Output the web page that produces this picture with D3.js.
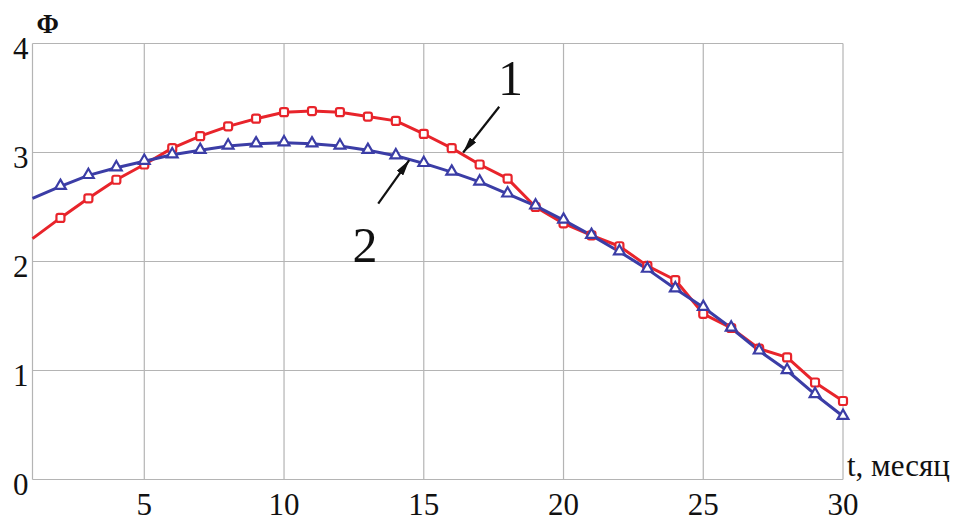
<!DOCTYPE html>
<html>
<head>
<meta charset="utf-8">
<script src="https://cdn.jsdelivr.net/npm/d3@7"></script>
<style>
    body { margin: 0; background: #ffffff; }
    svg { display: block; }
    .tick-label { font-family: "Liberation Serif", "Times New Roman", serif; fill: #111; }
</style>
</head>
<body>
<script>
// месяцы
var months = [1, 2, 3, 4, 5, 6, 7, 8, 9, 10, 11, 12, 13, 14, 15, 16, 17, 18, 19, 20, 21, 22, 23, 24, 25, 26, 27, 28, 29, 30];
// кривая 1 (красная)
var series1 = [2.21, 2.40, 2.58, 2.75, 2.89, 3.04, 3.15, 3.24, 3.31, 3.37, 3.38, 3.37, 3.33, 3.29, 3.17,
               3.04, 2.89, 2.76, 2.50, 2.35, 2.24, 2.14, 1.96, 1.83, 1.52, 1.39, 1.20, 1.12, 0.89, 0.72];
// кривая 2 (синяя)
var series2 = [2.58, 2.69, 2.79, 2.86, 2.92, 2.98, 3.02, 3.06, 3.08, 3.09, 3.08, 3.06, 3.02, 2.97, 2.90,
               2.82, 2.73, 2.62, 2.51, 2.38, 2.24, 2.09, 1.93, 1.75, 1.58, 1.39, 1.18, 1.00, 0.78, 0.58];
var xTicks = [5, 10, 15, 20, 25, 30];
var yTicks = [0, 1, 2, 3, 4];
// подписи кривых: текст, положение подписи, начало и конец стрелки (в единицах графика)
var curveLabels = ["1", "2"];
var labelPos = [[18.1, 3.53], [12.9, 2.0]];
var arrowFrom = [[17.7, 3.42], [13.37, 2.53]];
var arrowTo = [[16.41, 3.0], [14.48, 2.93]];

function draw() {
    var margin = { top: 43.5, right: 117, bottom: 41.5, left: 32.5 };
    var width = 960 - margin.left - margin.right;
    var height = 521 - margin.top - margin.bottom;

    var x = d3.scaleLinear().domain([1, 30]).range([0, width]);
    var y = d3.scaleLinear().domain([0, 4]).range([height, 0]);

    var svg = d3.select("body").append("svg")
        .attr("width", 960)
        .attr("height", 521);

    var defs = svg.append("defs");
    defs.append("marker")
        .attr("id", "arrowhead")
        .attr("viewBox", "0 0 16 8")
        .attr("refX", 16)
        .attr("refY", 4)
        .attr("markerWidth", 16)
        .attr("markerHeight", 8)
        .attr("markerUnits", "userSpaceOnUse")
        .attr("orient", "auto")
        .append("path")
        .attr("d", "M0,0 L16,4 L0,8 Z")
        .style("fill", "#111");

    var g = svg.append("g")
        .attr("transform", "translate(" + margin.left + "," + margin.top + ")");

    // сетка
    g.selectAll(".vgrid").data(xTicks.concat([1])).enter().append("line")
        .attr("class", "vgrid")
        .attr("x1", function(d) { return x(d); })
        .attr("x2", function(d) { return x(d); })
        .attr("y1", 0).attr("y2", height)
        .style("stroke", "#b4b4b4").style("stroke-width", "1.2px");
    g.selectAll(".hgrid").data(yTicks).enter().append("line")
        .attr("class", "hgrid")
        .attr("x1", 0).attr("x2", width)
        .attr("y1", function(d) { return y(d); })
        .attr("y2", function(d) { return y(d); })
        .style("stroke", "#b4b4b4").style("stroke-width", "1.2px");

    // подписи осей
    g.selectAll(".xlab").data(xTicks).enter().append("text")
        .attr("class", "tick-label xlab")
        .attr("x", function(d) { return x(d); })
        .attr("y", height + 35)
        .attr("text-anchor", "middle")
        .style("font-size", "31px")
        .text(function(d) { return d; });
    g.selectAll(".ylab").data(yTicks).enter().append("text")
        .attr("class", "tick-label ylab")
        .attr("x", -4)
        .attr("y", function(d) { return y(d) + 15; })
        .attr("text-anchor", "end")
        .style("font-size", "31px")
        .text(function(d) { return d; });

    g.append("text")
        .attr("class", "tick-label")
        .attr("x", width + 4)
        .attr("y", height - 3.5)
        .style("font-size", "31px")
        .text("t, месяц");
    g.append("text")
        .attr("class", "tick-label")
        .attr("x", 4)
        .attr("y", -10.5)
        .style("font-size", "27px")
        .style("font-weight", "bold")
        .text("Φ");

    var line = d3.line()
        .x(function(d, i) { return x(months[i]); })
        .y(function(d) { return y(d); });

    var sets = [
        { values: series1, color: "#e8242b", shape: "square" },
        { values: series2, color: "#3b3da6", shape: "triangle" }
    ];

    sets.forEach(function(s) {
        g.append("path")
            .datum(s.values)
            .attr("d", line)
            .style("fill", "none")
            .style("stroke", s.color)
            .style("stroke-width", "3px")
            .style("stroke-linejoin", "round");
    });

    sets.forEach(function(s) {
        var pts = s.values.map(function(v, i) { return { t: months[i], v: v }; })
            .filter(function(d) { return d.t > 1; });
        if (s.shape === "square") {
            g.selectAll(".sq").data(pts).enter().append("rect")
                .attr("x", function(d) { return x(d.t) - 4; })
                .attr("y", function(d) { return y(d.v) - 4; })
                .attr("width", 8).attr("height", 8)
                .attr("rx", 2)
                .style("fill", "#fff")
                .style("stroke", s.color)
                .style("stroke-width", "2.2px");
        } else {
            var tri = d3.symbol().type(d3.symbolTriangle).size(50);
            g.selectAll(".tri").data(pts).enter().append("path")
                .attr("d", tri)
                .attr("transform", function(d) { return "translate(" + x(d.t) + "," + (y(d.v) - 0.5) + ")"; })
                .style("fill", "#fff")
                .style("stroke", s.color)
                .style("stroke-width", "2.2px");
        }
    });

    // стрелки и номера кривых
    curveLabels.forEach(function(lab, i) {
        g.append("line")
            .attr("x1", x(arrowFrom[i][0])).attr("y1", y(arrowFrom[i][1]))
            .attr("x2", x(arrowTo[i][0])).attr("y2", y(arrowTo[i][1]))
            .style("stroke", "#111")
            .style("stroke-width", "2.2px")
            .attr("marker-end", "url(#arrowhead)");
        g.append("text")
            .attr("class", "tick-label")
            .attr("x", x(labelPos[i][0]))
            .attr("y", y(labelPos[i][1]))
            .attr("text-anchor", "middle")
            .style("font-size", "50px")
            .text(lab);
    });
}

draw();
</script>
</body>
</html>
